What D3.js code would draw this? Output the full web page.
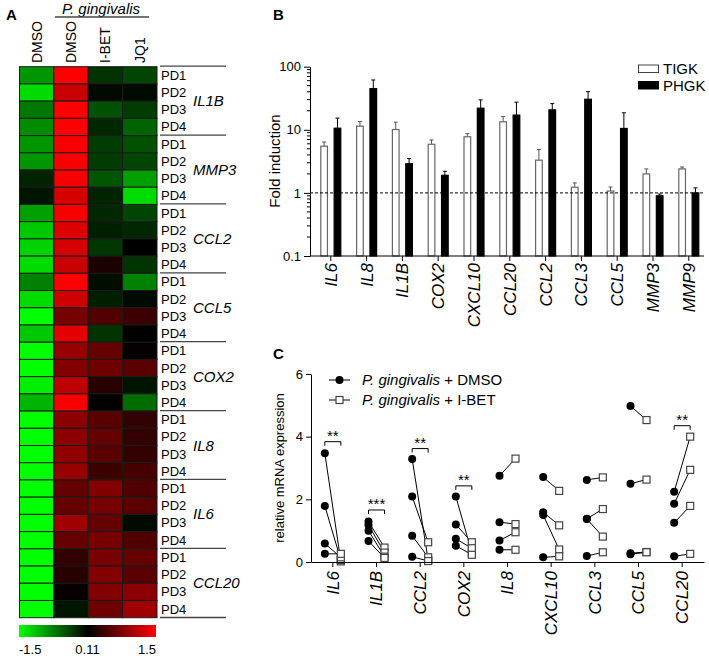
<!DOCTYPE html>
<html><head><meta charset="utf-8">
<script src="https://cdn.jsdelivr.net/npm/d3@7/dist/d3.min.js"></script>
<style>
body{margin:0;background:#fff;}
svg{font-family:"Liberation Sans",Arial,sans-serif;}
</style></head>
<body><svg id="c" width="709" height="656"></svg>
<script>
// ---------- Panel A data ----------
const heatGenes = ["IL1B","MMP3","CCL2","CCL5","COX2","IL8","IL6","CCL20"];
const donors = ["PD1","PD2","PD3","PD4"];
const heatColumns = ["DMSO","DMSO","I-BET","JQ1"];
const heatValues = [
  [-0.84,1.50,-0.21,-0.33],[-1.28,1.20,0.05,0.05],[-0.65,1.50,-0.40,-0.27],[-0.77,1.50,-0.14,-0.52],
  [-0.84,1.47,-0.27,-0.40],[-0.84,1.47,-0.27,-0.33],[-0.11,1.47,-0.43,-0.90],[-0.02,1.28,-0.11,-1.28],
  [-0.90,1.47,-0.14,-0.33],[-1.15,1.31,-0.08,-0.14],[-1.22,1.28,-0.24,0.11],[-1.28,1.20,0.27,-0.21],
  [-0.71,1.50,0.02,-0.71],[-1.28,1.25,-0.08,0.05],[-1.50,0.76,0.55,0.44],[-1.15,1.36,-0.21,0.11],
  [-1.50,0.93,0.66,0.14],[-1.50,0.82,0.71,0.60],[-1.40,1.15,0.33,-0.02],[-1.03,1.47,0.11,-0.58],
  [-1.50,0.87,0.60,0.38],[-1.50,0.87,0.66,0.38],[-1.50,0.90,0.60,0.38],[-1.50,0.93,0.44,0.49],
  [-1.50,0.66,0.82,0.55],[-1.50,0.66,0.76,0.60],[-1.50,0.98,0.66,0.05],[-1.50,0.66,0.76,0.55],
  [-1.50,0.38,0.76,0.66],[-1.50,0.33,0.82,0.60],[-1.50,0.14,0.82,0.87],[-1.50,-0.02,0.71,0.98]
];
const colorStops = [-1.5, 0.11, 1.5];
const colorbarLabels = ["-1.5","0.11","1.5"];

// ---------- Panel B data ----------
const bGenes = ["IL6","IL8","IL1B","COX2","CXCL10","CCL20","CCL2","CCL3","CCL5","MMP3","MMP9"];
const bSeries = ["TIGK","PHGK"];
const tigkMean = [5.5,11.4,10.1,5.9,7.75,13.4,3.3,1.23,1.07,2.0,2.4];
const tigkSem  = [0.9,2.1,3.1,1.0,0.95,2.8,1.6,0.21,0.17,0.4,0.17];
const phgkMean = [10.6,44.9,2.9,1.9,22,17.1,20.7,30.5,10.5,0.9,1.0];
const phgkSem  = [4.7,16.7,0.6,0.3,7.8,10.3,5.3,9.8,8.1,0.06,0.2];
const bTicks = [0.1,1,10,100];

// ---------- Panel C data ----------
const cGenes = ["IL6","IL1B","CCL2","COX2","IL8","CXCL10","CCL3","CCL5","CCL20"];
const dmso = [[3.47,1.79,0.59,0.26],[1.29,1.18,1.00,0.67],[3.29,2.09,0.84,0.17],[2.09,1.20,0.74,0.52],
  [2.75,1.27,0.69,0.39],[2.71,1.59,1.50,0.15],[2.62,1.38,1.37,0.19],[4.98,2.50,0.28,0.25],[2.24,1.86,1.25,0.18]];
const ibet = [[0.02,0.06,0.15,0.26],[0.46,0.30,0.17,0.13],[0.06,0.63,0.15,0.03],[0.30,0.63,0.44,0.23],
  [3.30,1.21,0.95,0.39],[2.27,1.17,0.40,0.18],[2.70,1.69,0.81,0.31],[4.53,2.63,0.32,0.31],[4.00,2.94,1.79,0.26]];
const sigGenes = ["IL6","IL1B","CCL2","COX2","CCL20"];
const sigLabels = ["**","***","**","**","**"];
const sigLevels = [3.84,1.66,3.62,2.43,4.35];
const cTicks = [0,2,4,6];
const cLegend = ["+ DMSO","+ I-BET"];

const svg = d3.select("#c");
const FONT = '"Liberation Sans",Arial,sans-serif';

// panel letters
[["A",6,20],["B",273,20],["C",273,359]].forEach(([t,x,y])=>
  svg.append("text").attr("x",x).attr("y",y).attr("font-size",15).attr("font-weight","bold").text(t));

// ================= Panel A =================
const rows = [];
heatGenes.forEach((g,gi)=>donors.forEach((d,di)=>rows.push({g,d,i:gi*4+di})));
const hx = d3.scaleBand().domain(d3.range(heatColumns.length)).range([19.5,157]);
const hy = d3.scaleBand().domain(d3.range(rows.length)).range([66.7,617.7]);
const hc = d3.scaleLinear().domain(colorStops).range(["#00ff00","#000000","#ff0000"]).clamp(true);
const A = svg.append("g");
rows.forEach(r=>{
  heatValues[r.i].forEach((v,ci)=>{
    A.append("rect").attr("x",hx(ci)).attr("y",hy(r.i)).attr("width",hx.bandwidth()).attr("height",hy.bandwidth())
      .attr("fill",hc(v)).attr("stroke","#1a1a1a").attr("stroke-width",1);
  });
});
// column headers
heatColumns.forEach((c,ci)=>{
  const x = hx(ci)+hx.bandwidth()/2;
  A.append("text").attr("transform",`translate(${x+5},63) rotate(-90)`).attr("font-size",14).text(c);
});
A.append("text").attr("x",101).attr("y",13.5).attr("text-anchor","middle").attr("font-size",15)
  .attr("font-style","italic").text("P. gingivalis");
A.append("line").attr("x1",55).attr("x2",149).attr("y1",17).attr("y2",17).attr("stroke","#444").attr("stroke-width",1.3);
// row labels
rows.forEach(r=>{
  A.append("text").attr("x",161).attr("y",hy(r.i)+hy.bandwidth()/2+4.5).attr("font-size",13).text(r.d);
});
heatGenes.forEach((g,gi)=>{
  const y0 = hy(gi*4), y1 = hy(gi*4+3)+hy.bandwidth();
  A.append("text").attr("x",193).attr("y",(y0+y1)/2+5).attr("font-size",15).attr("font-style","italic").text(g);
  A.append("line").attr("x1",160).attr("x2",226).attr("y1",y0-0.5).attr("y2",y0-0.5).attr("stroke","#444").attr("stroke-width",1.3);
});
A.append("line").attr("x1",160).attr("x2",226).attr("y1",617.5).attr("y2",617.5).attr("stroke","#444").attr("stroke-width",1.3);
// colorbar
const defs = svg.append("defs");
const grad = defs.append("linearGradient").attr("id","cb");
[["0%","#00ff00"],["50%","#000000"],["100%","#ff0000"]].forEach(([o,c])=>grad.append("stop").attr("offset",o).attr("stop-color",c));
A.append("rect").attr("x",19).attr("y",625).attr("width",137).attr("height",12).attr("fill","url(#cb)");
const cbx = d3.scalePoint().domain(colorbarLabels).range([19,156]);
colorbarLabels.forEach((l,i)=>{
  A.append("text").attr("x",cbx(l)).attr("y",654).attr("font-size",13)
   .attr("text-anchor",i===0?"start":i===2?"end":"middle").text(l);
});

// ================= Panel B =================
const B = svg.append("g");
const bx = d3.scaleBand().domain(bGenes).range([312.9,706.7]);
const bsub = d3.scaleBand().domain(bSeries).range([-10,10]).paddingInner(0.5);
const by = d3.scaleLog().domain([0.1,100]).range([256,66.7]);
const bData = bGenes.map((g,i)=>[
  {g,s:"TIGK",m:tigkMean[i],e:tigkSem[i]},{g,s:"PHGK",m:phgkMean[i],e:phgkSem[i]}]).flat();
// error bars
bData.forEach(d=>{
  const cx = bx(d.g)+bx.bandwidth()/2+bsub(d.s)+bsub.bandwidth()/2;
  const col = d.s==="TIGK"?"#555":"#000";
  B.append("line").attr("x1",cx).attr("x2",cx).attr("y1",by(d.m)).attr("y2",by(d.m+d.e)).attr("stroke",col).attr("stroke-width",1);
  B.append("line").attr("x1",cx-2).attr("x2",cx+2).attr("y1",by(d.m+d.e)).attr("y2",by(d.m+d.e)).attr("stroke",col).attr("stroke-width",1);
});
bData.forEach(d=>{
  const x = bx(d.g)+bx.bandwidth()/2+bsub(d.s);
  B.append("rect").attr("x",x).attr("y",by(d.m)).attr("width",bsub.bandwidth()).attr("height",by(0.1)-by(d.m))
    .attr("fill",d.s==="TIGK"?"#fff":"#000").attr("stroke",d.s==="TIGK"?"#666":"#000").attr("stroke-width",1.2);
});
// dashed line at 1
B.append("line").attr("x1",310).attr("x2",704).attr("y1",by(1)).attr("y2",by(1)).attr("stroke","#000")
  .attr("stroke-width",1).attr("stroke-dasharray","3,2");
// y axis
const byAxis = d3.axisLeft(by).tickValues(bTicks).tickFormat(d=>d<1?"0.1":d3.format("d")(d)).tickSize(6).tickSizeOuter(0);
const bya = B.append("g").attr("transform","translate(310,0)").call(byAxis);
bya.selectAll("text").attr("font-size",13).attr("font-family",FONT).attr("fill","#000");
bya.selectAll("line,path").attr("stroke","#000");
const minor = [];
[0.1,1,10].forEach(dec=>d3.range(2,10).forEach(k=>minor.push(dec*k)));
B.selectAll(".mn").data(minor).enter().append("line").attr("x1",307).attr("x2",310)
  .attr("y1",d=>by(d)).attr("y2",d=>by(d)).attr("stroke","#000");
// x axis
const bxAxis = d3.axisBottom(bx).tickSize(5).tickSizeOuter(0);
const bxa = B.append("g").attr("transform","translate(0,256)").call(bxAxis);
bxa.select(".domain").remove();
bxa.selectAll("line").attr("stroke","#000");
bxa.selectAll("text").attr("font-size",17).attr("font-style","italic").attr("font-family",FONT).attr("fill","#000")
  .attr("text-anchor","end").attr("transform","rotate(-90)").attr("x",-7).attr("y",0).attr("dy","0.35em");
B.append("line").attr("x1",310).attr("x2",704).attr("y1",256).attr("y2",256).attr("stroke","#000");
B.append("text").attr("transform","translate(280,161) rotate(-90)").attr("text-anchor","middle").attr("font-size",15).text("Fold induction");
// legend
bSeries.forEach((s,i)=>{
  const y = 65+i*16.5;
  B.append("rect").attr("x",638.5).attr("y",y).attr("width",20).attr("height",7.5)
   .attr("fill",i===0?"#fff":"#000").attr("stroke",i===0?"#444":"#000");
  B.append("text").attr("x",663).attr("y",y+9).attr("font-size",15).text(s);
});

// ================= Panel C =================
const C = svg.append("g");
const cx = d3.scaleBand().domain(cGenes).range([311,704]);
const cy = d3.scaleLinear().domain([0,6]).range([562,374]);
const off = 8;
cGenes.forEach((g,gi)=>{
  const xc = cx(g)+cx.bandwidth()/2;
  dmso[gi].forEach((v,k)=>{
    C.append("line").attr("x1",xc-off).attr("x2",xc+off).attr("y1",cy(v)).attr("y2",cy(ibet[gi][k]))
      .attr("stroke","#000").attr("stroke-width",1);
  });
});
cGenes.forEach((g,gi)=>{
  const xc = cx(g)+cx.bandwidth()/2;
  ibet[gi].forEach(v=>{
    C.append("rect").attr("x",xc+off-3.5).attr("y",cy(v)-3.5).attr("width",7).attr("height",7)
      .attr("fill","#fff").attr("stroke","#444").attr("stroke-width",1.2);
  });
  dmso[gi].forEach(v=>{
    C.append("circle").attr("cx",xc-off).attr("cy",cy(v)).attr("r",4).attr("fill","#000");
  });
});
// significance
sigGenes.forEach((g,i)=>{
  const xc = cx(g)+cx.bandwidth()/2, y = cy(sigLevels[i]);
  C.append("path").attr("d",`M${xc-off},${y+4}V${y}H${xc+off}V${y+4}`).attr("fill","none").attr("stroke","#000").attr("stroke-width",1);
  C.append("text").attr("x",xc).attr("y",y-1).attr("text-anchor","middle").attr("font-size",15).text(sigLabels[i]);
});
// axes
const cyAxis = d3.axisLeft(cy).tickValues(cTicks).tickFormat(d3.format("d")).tickSize(5).tickSizeOuter(0);
const cya = C.append("g").attr("transform","translate(311,0)").call(cyAxis);
cya.selectAll("text").attr("font-size",13).attr("font-family",FONT).attr("fill","#000");
cya.selectAll("line,path").attr("stroke","#000");
const cxAxis = d3.axisBottom(cx).tickSize(5).tickSizeOuter(0);
const cxa = C.append("g").attr("transform","translate(0,562)").call(cxAxis);
cxa.selectAll("line,path").attr("stroke","#000");
cxa.selectAll("text").attr("font-size",17).attr("font-style","italic").attr("font-family",FONT).attr("fill","#000")
  .attr("text-anchor","end").attr("transform","rotate(-90)").attr("x",-9).attr("y",0).attr("dy","0.35em");
C.append("text").attr("transform","translate(284,468) rotate(-90)").attr("text-anchor","middle").attr("font-size",13).text("relative mRNA expression");
// legend
cLegend.forEach((l,i)=>{
  const y = 380+i*20;
  C.append("line").attr("x1",329).attr("x2",350).attr("y1",y).attr("y2",y).attr("stroke","#000");
  if(i===0) C.append("circle").attr("cx",339.5).attr("cy",y).attr("r",4).attr("fill","#000");
  else C.append("rect").attr("x",336).attr("y",y-3.5).attr("width",7).attr("height",7).attr("fill","#fff").attr("stroke","#444").attr("stroke-width",1.2);
  const t = C.append("text").attr("x",362).attr("y",y+5).attr("font-size",15);
  t.append("tspan").attr("font-style","italic").text("P. gingivalis");
  t.append("tspan").text(" "+l);
});
</script></body></html>
